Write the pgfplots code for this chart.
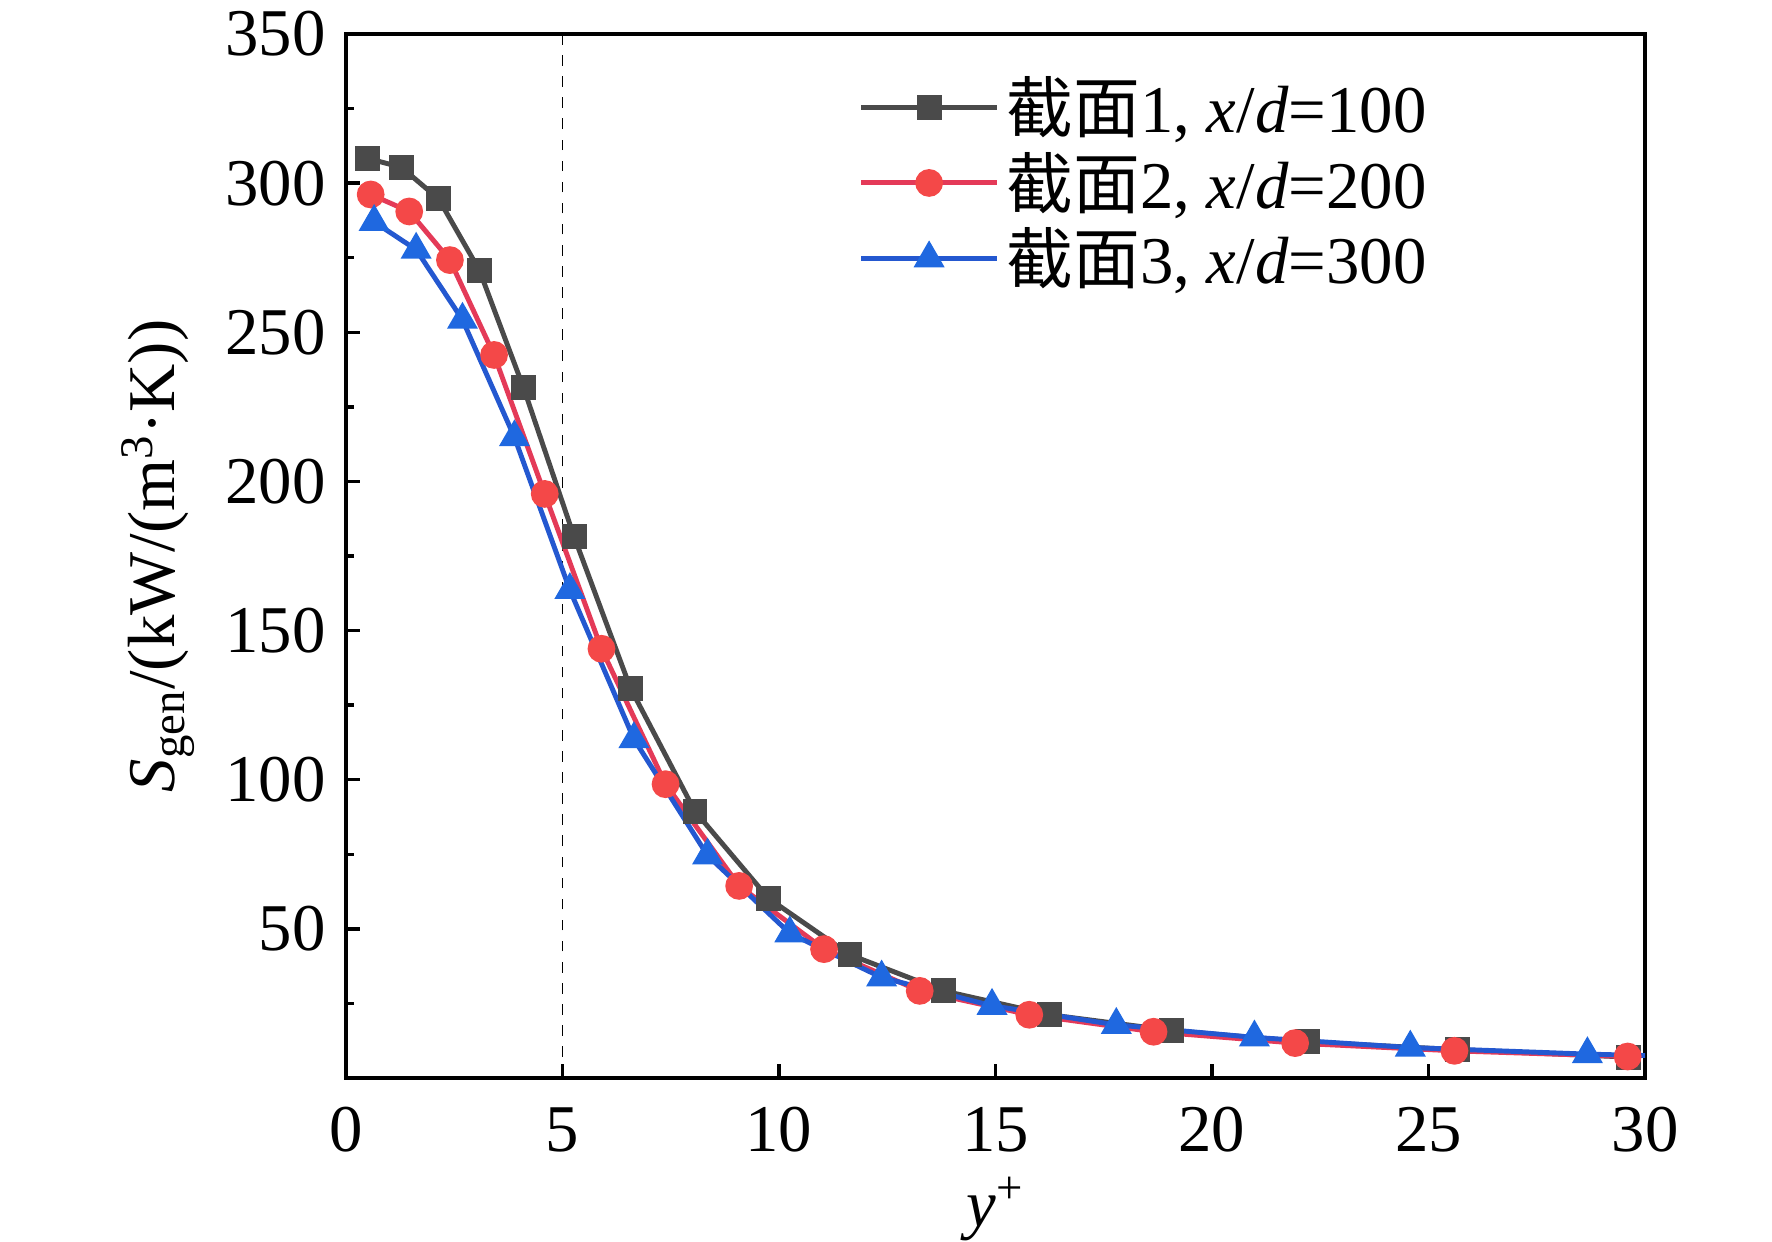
\documentclass[border=0pt]{standalone}
\usepackage{pgfplots}
\pgfplotsset{compat=1.18}
\usepackage{fontspec}
\setmainfont{Liberation Serif}
\newfontfamily\cjk{Noto Sans CJK SC}
\definecolor{cgray}{HTML}{4A4A4A}
\definecolor{credl}{HTML}{E43A58}
\definecolor{credm}{HTML}{F44848}
\definecolor{cbluel}{HTML}{2458D0}
\definecolor{cbluem}{HTML}{1F68E0}
\begin{document}
\begin{tikzpicture}
\begin{axis}[
  name=ax,
  scale only axis,
  width=12.99cm, height=10.44cm,
  xmin=0, xmax=30, ymin=0, ymax=350,
  xtick={0,5,...,30},
  ytick={50,100,...,350},
  minor ytick={25,75,...,325},
  tick pos=left,
  tick align=inside,
  major tick length=0.14cm,
  minor tick length=0.08cm,
  axis line style={line width=1.4pt},
  every tick/.style={black, line width=1.0pt},
  /pgf/number format/assume math mode=true,
  tick label style={font=\fontsize{19}{22}\selectfont},
  xticklabel style={yshift=-0.17cm},
  yticklabel style={xshift=-0.08cm},
  label style={font=\fontsize{19}{22}\selectfont},
  xlabel={\textit{y}\textsuperscript{+}},
  ylabel={\textit{S}\textsubscript{gen}/(kW/(m\textsuperscript{3}·K))},
  xlabel style={at={(axis description cs:0.5,0)}, anchor=center, yshift=-1.31cm},
  ylabel style={at={(axis description cs:-0.1447,0.5)}, anchor=center},
  legend style={draw=none, fill=none, at={(0.386,0.973)}, anchor=north west,
    font=\fontsize{19}{22}\selectfont, row sep=0pt,
    /tikz/every even column/.append style={column sep=0pt}},
  legend cell align=left,
  legend image code/.code={\draw[mark repeat=2,mark phase=2] plot coordinates {(0cm,0cm)(0.68cm,0cm)(1.36cm,0cm)};},
  clip=true,
]
\addplot[black, dashed, line width=0.4pt, forget plot] coordinates {(5,0) (5,350)};
\addplot[cgray, line width=1.4pt, mark=square*, mark size=3.3pt, mark options={fill=cgray, draw=cgray, line width=0.5pt}] coordinates {
(0.50,308.3) (1.28,305.3) (2.14,294.7) (3.08,270.8) (4.10,231.4) (5.27,181.4) (6.57,130.7) (8.06,89.4) (9.76,60.2) (11.64,41.3) (13.80,29.2) (16.25,21.2) (19.07,15.9) (22.2,12.1) (25.67,9.5) (29.62,7.0)
};
\addlegendentry{{\cjk 截面}1, \textit{x}/\textit{d}=100}
\addplot[credl, line width=1.4pt, mark=*, mark size=3.7pt, mark options={fill=credm, draw=credm, line width=0.5pt}] coordinates {
(0.57,296.2) (1.46,290.5) (2.40,274.2) (3.42,242.4) (4.59,195.8) (5.90,143.9) (7.38,98.5) (9.08,64.4) (11.04,43.2) (13.25,29.2) (15.78,21.2) (18.65,15.5) (21.92,11.7) (25.6,9.1) (29.6,7.2)
};
\addlegendentry{{\cjk 截面}2, \textit{x}/\textit{d}=200}
\addplot[cbluel, line width=1.4pt, mark=triangle*, mark size=4.6pt, mark options={fill=cbluem, draw=cbluem, line width=0.5pt}] coordinates {
(0.65,287.0) (1.62,277.7) (2.69,254.2) (3.89,214.8) (5.17,163.6) (6.65,113.6) (8.35,74.6) (10.25,48.5) (12.37,33.7) (14.92,24.2) (17.79,17.8) (20.98,13.6) (24.58,10.2) (28.67,8.0) (33.2,6.4)
};
\addlegendentry{{\cjk 截面}3, \textit{x}/\textit{d}=300}
\end{axis}
\pgfresetboundingbox
\path ([xshift=-3.46cm,yshift=-1.64cm]ax.south west) rectangle ([xshift=1.27cm,yshift=0.34cm]ax.north east);
\end{tikzpicture}
\end{document}
